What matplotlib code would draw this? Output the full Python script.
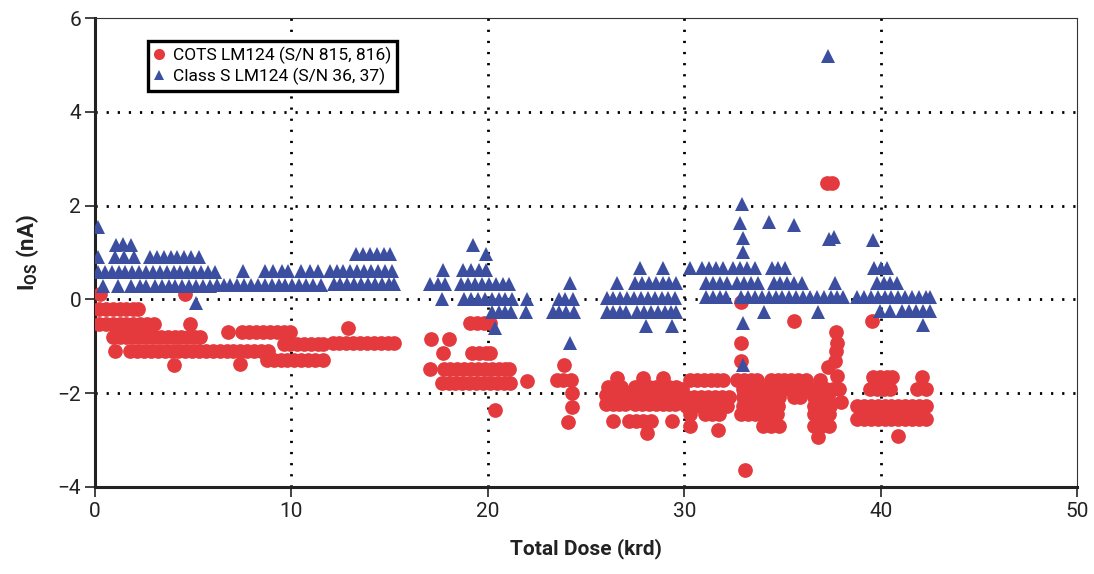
import matplotlib
matplotlib.use("Agg")
import matplotlib.pyplot as plt
from matplotlib import font_manager
from matplotlib.lines import Line2D

# ---- data: total dose (krd) and input offset current (nA) ----
cots_dose = [
    0.25, 4.6,
    0.2, 0.55, 0.9, 1.25, 1.6, 1.95, 2.2,
    0.2, 0.55, 0.9, 1.25, 1.6, 1.95, 2.3, 2.65, 3.0, 4.85,
    6.75, 7.5, 7.85, 8.2, 8.55, 8.9, 9.25, 9.6, 9.95,
    0.9, 1.25, 1.6, 1.95, 2.3, 2.65, 3.0, 3.35, 3.7, 4.05, 4.4, 4.75, 5.1, 5.35,
    1.0, 1.8, 2.15, 2.5, 2.85, 3.2, 3.55, 3.9, 4.25, 4.6, 4.95, 5.3, 5.65, 6.0,
    6.35, 6.7, 7.05, 7.4, 7.75, 8.1, 8.45, 8.8,
    9.6, 9.95, 10.3, 10.65, 11.0, 11.35, 11.6,
    12.9,
    12.1, 12.45, 12.8, 13.15, 13.5, 13.85, 14.2, 14.55, 14.9, 15.2,
    8.75, 9.1, 9.45, 9.8, 10.15, 10.5, 10.85, 11.2, 11.6,
    4.0, 7.4,
    19.1, 19.45, 19.8, 20.1,
    17.1, 18.0,
    17.7, 19.2, 19.55, 19.9, 20.1,
    17.05, 17.75, 18.1, 18.45, 18.8, 19.15, 19.5, 19.85, 20.2, 20.55, 20.9, 21.1,
    23.9,
    17.65, 18.0, 18.35, 18.7, 19.05, 19.4, 19.75, 20.1, 20.45, 20.8, 21.15, 22.0,
    23.5, 23.85, 24.25,
    24.3, 24.3, 24.1, 20.35,
    26.6, 27.9, 28.9,
    26.1, 26.45, 26.8, 27.5, 27.85, 28.2, 28.55, 28.9, 29.25, 29.6,
    26.0, 26.35, 26.7, 27.0, 27.5, 27.85, 28.2, 28.55, 28.9, 29.25, 29.6,
    26.0, 26.35, 26.7, 27.0, 27.5, 27.85, 28.2, 28.55, 28.9, 29.25, 29.55,
    26.4, 27.2, 27.55, 27.9, 28.3, 29.4,
    28.1,
    37.25, 37.5,
    32.9,
    35.6, 39.55,
    37.75, 32.9, 37.8, 37.75, 32.9, 37.7, 37.3, 37.8,
    30.3, 30.65, 31.0, 31.35, 31.65, 32.0, 32.7, 33.05, 33.4, 33.7, 34.4, 34.75,
    35.1, 35.45, 35.8, 36.2, 36.9, 39.6, 39.95, 40.3, 40.6, 42.1,
    29.9, 33.0, 33.35, 33.7, 34.05, 34.4, 34.75, 35.1, 35.45, 35.8, 36.15, 36.5,
    36.85, 37.2, 37.55, 37.9, 39.45, 39.8, 40.15, 40.5, 41.85, 42.3,
    29.8, 30.15, 30.5, 30.85, 31.2, 31.55, 31.9, 32.3, 33.0, 33.35, 33.7, 34.05,
    34.4, 34.85, 35.6, 35.9, 36.6, 36.9, 37.3, 38.0,
    30.1, 30.45, 30.8, 31.15, 31.5, 31.85, 32.2, 33.0, 33.35, 33.7, 34.05, 34.4,
    34.75, 36.6, 36.95, 37.4, 38.8, 39.15, 39.5, 39.85, 40.2, 40.55, 40.9, 41.25,
    41.6, 41.95, 42.3,
    30.3, 31.05, 31.4, 31.75, 32.9, 33.25, 33.6, 33.95, 34.3, 34.7, 36.6, 36.95, 37.35,
    38.8, 39.15, 39.5, 39.85, 40.2, 40.55, 40.9, 41.25, 41.6, 41.95, 42.3,
    30.3, 31.7, 34.0, 34.4, 34.85, 36.6, 36.95, 37.35,
    36.8, 40.9,
    33.1,
]
cots_ios = [
    0.11, 0.12,
    -0.21, -0.21, -0.21, -0.21, -0.21, -0.21, -0.21,
    -0.52, -0.52, -0.52, -0.52, -0.52, -0.52, -0.52, -0.52, -0.52, -0.52,
    -0.70, -0.70, -0.70, -0.70, -0.70, -0.70, -0.70, -0.70, -0.70,
    -0.81, -0.81, -0.81, -0.81, -0.81, -0.81, -0.81, -0.81, -0.81, -0.81, -0.81, -0.81, -0.81, -0.81,
    -1.10, -1.10, -1.10, -1.10, -1.10, -1.10, -1.10, -1.10, -1.10, -1.10, -1.10, -1.10, -1.10, -1.10,
    -1.10, -1.10, -1.10, -1.10, -1.10, -1.10, -1.10, -1.10,
    -0.95, -0.95, -0.95, -0.95, -0.95, -0.95, -0.95,
    -0.60,
    -0.92, -0.92, -0.92, -0.92, -0.92, -0.92, -0.92, -0.92, -0.92, -0.92,
    -1.30, -1.30, -1.30, -1.30, -1.30, -1.30, -1.30, -1.30, -1.30,
    -1.39, -1.37,
    -0.50, -0.50, -0.50, -0.50,
    -0.85, -0.85,
    -1.15, -1.15, -1.15, -1.15, -1.15,
    -1.49, -1.49, -1.49, -1.49, -1.49, -1.49, -1.49, -1.49, -1.49, -1.49, -1.49, -1.49,
    -1.39,
    -1.78, -1.78, -1.78, -1.78, -1.78, -1.78, -1.78, -1.78, -1.78, -1.78, -1.78, -1.73,
    -1.72, -1.72, -1.72,
    -2.00, -2.30, -2.62, -2.35,
    -1.67, -1.67, -1.67,
    -1.86, -1.86, -1.86, -1.86, -1.86, -1.86, -1.86, -1.86, -1.86, -1.86,
    -2.04, -2.04, -2.04, -2.04, -2.04, -2.04, -2.04, -2.04, -2.04, -2.04, -2.04,
    -2.24, -2.24, -2.24, -2.24, -2.24, -2.24, -2.24, -2.24, -2.24, -2.24, -2.24,
    -2.60, -2.60, -2.60, -2.60, -2.60, -2.60,
    -2.84,
    2.48, 2.48,
    -0.06,
    -0.47, -0.47,
    -0.70, -0.92, -0.92, -1.10, -1.32, -1.32, -1.45, -1.64,
    -1.71, -1.71, -1.71, -1.71, -1.71, -1.71, -1.71, -1.71, -1.71, -1.71, -1.71, -1.71,
    -1.71, -1.71, -1.71, -1.71, -1.71, -1.66, -1.66, -1.66, -1.66, -1.66,
    -1.90, -1.90, -1.90, -1.90, -1.90, -1.90, -1.90, -1.90, -1.90, -1.90, -1.90, -1.90,
    -1.90, -1.90, -1.90, -1.90, -1.92, -1.92, -1.92, -1.92, -1.92, -1.92,
    -2.09, -2.09, -2.09, -2.09, -2.09, -2.09, -2.09, -2.09, -2.09, -2.09, -2.09, -2.09,
    -2.09, -2.09, -2.09, -2.09, -2.09, -2.09, -2.09, -2.18,
    -2.28, -2.28, -2.28, -2.28, -2.28, -2.28, -2.28, -2.28, -2.28, -2.28, -2.28, -2.28,
    -2.28, -2.28, -2.28, -2.28, -2.28, -2.28, -2.28, -2.28, -2.28, -2.28, -2.28, -2.28,
    -2.28, -2.28, -2.28,
    -2.45, -2.45, -2.45, -2.45, -2.45, -2.45, -2.45, -2.45, -2.45, -2.45, -2.45, -2.45, -2.45,
    -2.56, -2.56, -2.56, -2.56, -2.56, -2.56, -2.56, -2.56, -2.56, -2.56, -2.56,
    -2.71, -2.78, -2.71, -2.71, -2.71, -2.71, -2.71, -2.71,
    -2.93, -2.92,
    -3.63,
]

classs_dose = [
    0.15,
    1.05, 1.45, 1.85,
    0.15, 1.0, 1.5, 2.0, 2.8, 3.15, 3.5, 3.85, 4.2, 4.55, 4.9, 5.3,
    0.15, 0.5, 0.85, 1.2, 1.55, 1.9, 2.25, 2.6, 2.95, 3.3, 3.65, 4.0, 4.35, 4.7,
    5.05, 5.4, 5.75, 6.1, 7.55, 8.65, 9.05, 9.5, 9.85, 10.5, 10.95, 11.35, 11.95,
    12.3, 12.65, 13.0, 13.35, 13.7, 14.05, 14.4, 14.75, 15.1,
    13.3, 13.65, 14.0, 14.35, 14.7, 15.0,
    0.4, 1.15, 1.85, 2.3, 2.6, 3.05, 3.4, 3.75, 4.1, 4.45, 4.8, 5.15, 5.5, 5.85,
    6.2, 6.55, 6.9, 7.25, 7.6, 7.95, 8.3, 8.65, 9.0, 9.35, 9.7, 10.05, 10.4, 10.75,
    11.1, 11.5, 12.15, 12.5, 12.85, 13.2, 13.55, 13.9, 14.25, 14.6, 14.95, 15.2,
    5.15,
    19.25, 19.9,
    17.7, 18.75, 19.15, 19.55, 19.9,
    17.05, 17.45, 17.8, 18.65, 19.0, 19.35, 19.7, 20.05, 20.4, 20.75, 21.1,
    24.2,
    17.65, 18.8, 19.15, 19.5, 19.85, 20.2, 20.55, 20.9, 21.25, 22.0, 23.6, 23.95, 24.35,
    20.2, 20.55, 20.9, 21.2, 21.95, 23.3, 23.65, 24.0, 24.4,
    20.35, 24.2,
    27.75, 28.9,
    26.6, 27.5, 27.85, 28.2, 28.55, 28.9, 29.25, 29.6,
    26.05, 26.4, 26.75, 27.1, 27.45, 27.8, 28.15, 28.5, 28.85, 29.2, 29.55,
    26.05, 26.4, 26.75, 27.05, 27.6, 27.95, 28.3, 28.65, 29.0, 29.35, 29.6,
    28.05, 29.4,
    37.3,
    32.95,
    32.85, 34.3, 35.6,
    33.0, 37.35, 37.65, 39.6,
    33.0,
    30.3, 30.9, 31.25, 31.6, 32.0, 32.5, 32.85, 33.2, 33.6, 34.45, 34.8, 35.15,
    39.65, 40.0, 40.3,
    31.1, 31.45, 31.8, 32.2, 32.7, 33.05, 33.4, 33.75, 34.55, 34.9, 35.25, 35.6,
    36.0, 37.7, 39.8, 40.15, 40.5, 40.85,
    31.1, 31.45, 31.8, 32.15, 32.9, 33.25, 33.6, 33.95, 34.3, 34.65, 35.0, 35.35,
    35.7, 36.05, 36.4, 36.75, 37.1, 37.45, 37.8, 38.1, 38.8, 39.15, 39.5, 39.85,
    40.2, 40.55, 40.9, 41.25, 41.6, 41.95, 42.3, 42.5,
    34.05, 36.8, 39.95, 40.5, 41.1, 41.45, 41.8, 42.15, 42.5,
    33.0, 42.15,
    33.0,
]
classs_ios = [
    1.55,
    1.15, 1.18, 1.15,
    0.90, 0.90, 0.90, 0.90, 0.90, 0.90, 0.90, 0.90, 0.90, 0.90, 0.90, 0.90,
    0.58, 0.58, 0.58, 0.58, 0.58, 0.58, 0.58, 0.58, 0.58, 0.58, 0.58, 0.58, 0.58, 0.58,
    0.58, 0.58, 0.58, 0.58, 0.60, 0.60, 0.60, 0.60, 0.60, 0.60, 0.60, 0.60, 0.60,
    0.60, 0.60, 0.60, 0.60, 0.60, 0.60, 0.60, 0.60, 0.60,
    0.96, 0.96, 0.96, 0.96, 0.96, 0.96,
    0.28, 0.28, 0.28, 0.28, 0.28, 0.28, 0.28, 0.28, 0.28, 0.28, 0.28, 0.28, 0.28, 0.28,
    0.30, 0.30, 0.30, 0.30, 0.30, 0.30, 0.30, 0.30, 0.30, 0.30, 0.30, 0.30, 0.30, 0.30,
    0.30, 0.30, 0.32, 0.32, 0.32, 0.32, 0.32, 0.32, 0.32, 0.32, 0.32, 0.32,
    -0.07,
    1.17, 0.96,
    0.62, 0.62, 0.62, 0.62, 0.62,
    0.32, 0.32, 0.32, 0.32, 0.32, 0.32, 0.32, 0.32, 0.32, 0.32, 0.32,
    0.34,
    0.00, 0.00, 0.00, 0.00, 0.00, 0.00, 0.00, 0.00, 0.00, 0.00, 0.00, 0.00, 0.00,
    -0.26, -0.26, -0.26, -0.26, -0.26, -0.27, -0.27, -0.27, -0.27,
    -0.60, -0.92,
    0.66, 0.66,
    0.36, 0.36, 0.36, 0.36, 0.36, 0.36, 0.36, 0.36,
    0.04, 0.04, 0.04, 0.04, 0.04, 0.04, 0.04, 0.04, 0.04, 0.04, 0.04,
    -0.27, -0.27, -0.27, -0.27, -0.27, -0.27, -0.27, -0.27, -0.27, -0.27, -0.27,
    -0.57, -0.57,
    5.20,
    2.03,
    1.63, 1.65, 1.58,
    1.30, 1.28, 1.33, 1.26,
    1.02,
    0.68, 0.68, 0.68, 0.68, 0.68, 0.68, 0.68, 0.68, 0.68, 0.68, 0.68, 0.68,
    0.68, 0.68, 0.68,
    0.36, 0.36, 0.36, 0.36, 0.36, 0.36, 0.36, 0.36, 0.36, 0.36, 0.36, 0.36,
    0.36, 0.36, 0.36, 0.36, 0.36, 0.36,
    0.06, 0.06, 0.06, 0.06, 0.06, 0.06, 0.06, 0.06, 0.06, 0.06, 0.06, 0.06,
    0.06, 0.06, 0.06, 0.06, 0.06, 0.06, 0.06, 0.06, 0.06, 0.06, 0.06, 0.06,
    0.06, 0.06, 0.06, 0.06, 0.06, 0.06, 0.06, 0.06,
    -0.26, -0.26, -0.24, -0.24, -0.24, -0.24, -0.24, -0.24, -0.24,
    -0.50, -0.55,
    -1.39,
]

series_labels = ["COTS LM124 (S/N 815, 816)", "Class S LM124 (S/N 36, 37)"]
x_ticks = [0, 10, 20, 30, 40, 50]
y_ticks = [-4, -2, 0, 2, 4, 6]
y_tick_labels = ["\u22124", "\u22122", "0", "2", "4", "6"]

# ---- fonts ----
installed = {f.name for f in font_manager.fontManager.ttflist}
narrow = "Liberation Sans Narrow" if "Liberation Sans Narrow" in installed else "Roboto"
plt.rcParams["font.family"] = [narrow, "DejaVu Sans"]
plt.rcParams["mathtext.fontset"] = "custom"
plt.rcParams["mathtext.rm"] = narrow
plt.rcParams["mathtext.bf"] = narrow + ":bold"

RED = "#e4393d"
BLUE = "#3c4ea0"

fig = plt.figure(figsize=(10.94, 5.74), dpi=100)
ax = fig.add_axes([0.0868, 0.1516, 0.8977, 0.8170])

ax.plot(cots_dose, cots_ios, linestyle="none", marker="o", markersize=10.6,
        color=RED, markeredgewidth=0, zorder=3)
ax.plot(classs_dose, classs_ios, linestyle="none", marker="^", markersize=9.8,
        color=BLUE, markeredgewidth=0, zorder=3)

ax.set_xlim(0, 50)
ax.set_ylim(-4, 6)
ax.set_xticks(x_ticks)
ax.set_yticks(y_ticks)
ax.set_yticklabels(y_tick_labels)
ax.tick_params(axis="both", direction="out", length=7, width=1.2,
               labelsize=15, color="#222222", labelcolor="#222222")
ax.tick_params(axis="x", pad=4)
ax.tick_params(axis="y", pad=3)

for s in ("left", "bottom"):
    ax.spines[s].set_linewidth(2.2)
    ax.spines[s].set_color("#222222")
for s in ("right", "top"):
    ax.spines[s].set_linewidth(0.8)
    ax.spines[s].set_color("#333333")

for v in [10, 20, 30, 40]:
    ax.axvline(v, color="black", linestyle=(0, (0.8, 3.2)), linewidth=2.0, zorder=1)
for v in [-2, 0, 2, 4]:
    ax.axhline(v, color="black", linestyle=(0, (0.8, 3.2)), linewidth=2.0, zorder=1)

ax.set_xlabel("Total Dose (krd)", fontsize=15, fontweight="bold", labelpad=12,
              color="#222222")
ax.set_ylabel(r"$\mathbf{I_{OS}}$ (nA)", fontsize=16, fontweight="bold",
              labelpad=12, color="#222222")

handles = [
    Line2D([], [], linestyle="none", marker="o", markersize=8, color=RED,
           markeredgewidth=0),
    Line2D([], [], linestyle="none", marker="^", markersize=7.5, color=BLUE,
           markeredgewidth=0),
]
leg = ax.legend(handles, series_labels, loc="upper left",
                bbox_to_anchor=(0.054, 0.951), fontsize=12.5, frameon=True,
                fancybox=False, edgecolor="black", framealpha=1,
                handlelength=0.6, handletextpad=0.5, borderpad=0.35,
                labelspacing=0.2, borderaxespad=0)
leg.get_frame().set_linewidth(2.4)
leg.set_zorder(5)

fig.savefig("out.png", dpi=100)
